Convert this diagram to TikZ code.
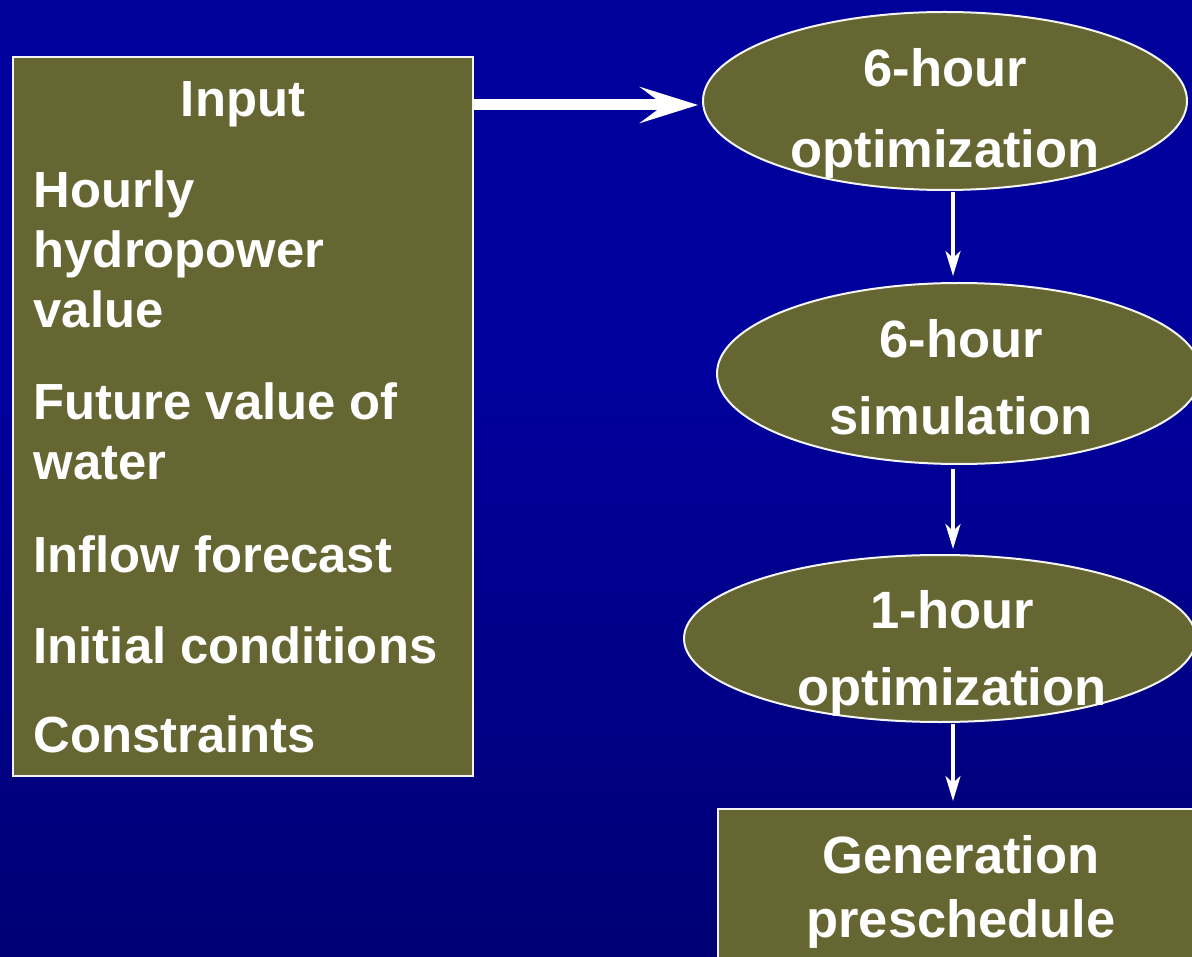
\documentclass[tikz,border=0pt]{standalone}
\usepackage{fontspec}
\setmainfont{Liberation Sans}
\usetikzlibrary{shapes.geometric,arrows.meta}

\definecolor{olive}{HTML}{666633}
\definecolor{bgtop}{HTML}{000088}
\definecolor{bgmid}{HTML}{00009C}
\definecolor{bglow}{HTML}{000070}
\definecolor{bgbot}{HTML}{000036}
\definecolor{edge}{HTML}{F4F4F4}

\pgfdeclareverticalshading{slidebg}{100bp}{%
  color(0bp)=(bgbot); color(22bp)=(bglow); color(55bp)=(bgmid);
  color(72bp)=(bgmid); color(100bp)=(bgtop)}

\tikzset{
  panel/.style={draw=edge, line width=2pt, fill=olive, inner sep=0pt},
  oval/.style={ellipse, draw=edge, line width=2pt, fill=olive, inner sep=0pt},
  lefttxt/.style={anchor=base west, inner sep=0pt, text=white,
    font=\fontsize{50.8}{60}\selectfont\bfseries},
  headtxt/.style={anchor=base, inner sep=0pt, text=white,
    font=\fontsize{50.8}{60}\selectfont\bfseries},
  shapetxt/.style={anchor=base, inner sep=0pt, text=white,
    font=\fontsize{52.5}{62}\selectfont\bfseries},
  flow/.style={draw=white, line width=3.5pt,
    -{Stealth[length=25pt, width=15pt, inset=7pt]}},
  bigflow/.style={draw=white, line width=11pt,
    -{Stealth[length=58pt, width=36pt, inset=24pt]}}
}

\begin{document}
\begin{tikzpicture}[x=1pt, y=-1pt]
  % page frame and background
  \useasboundingbox (0,0) rectangle (1192,957);
  \clip (0,0) rectangle (1192,957);
  \shade[shading=slidebg] (0,0) rectangle (1192,957);

  % input panel
  \node[panel, minimum width=460pt, minimum height=719pt] (input) at (243,416.5) {};
  \node[headtxt] (inhead) at (243,117) {Input};
  \node[lefttxt] (i1a) at (33.5,208) {Hourly};
  \node[lefttxt] (i1b) at (33.5,268) {hydropower};
  \node[lefttxt] (i1c) at (33.5,328) {value};
  \node[lefttxt] (i2a) at (33.5,420) {Future value of};
  \node[lefttxt] (i2b) at (33.5,480) {water};
  \node[lefttxt] (i3) at (33.5,572) {Inflow forecast};
  \node[lefttxt] (i4) at (33.5,663) {Initial conditions};
  \node[lefttxt] (i5) at (33.5,752) {Constraints};

  % process chain
  \node[oval, minimum width=484pt, minimum height=178pt] (opt6) at (945,101) {};
  \node[oval, minimum width=484pt, minimum height=181pt] (sim6) at (959,373.5) {};
  \node[oval, minimum width=512pt, minimum height=167pt] (opt1) at (940,638.5) {};
  \node[panel, minimum width=486pt, minimum height=200pt] (gen) at (961,909) {};

  \node[shapetxt] (t1a) at (945,87) {6-hour};
  \node[shapetxt] (t1b) at (945,168) {optimization};
  \node[shapetxt] (t2a) at (961,358) {6-hour};
  \node[shapetxt] (t2b) at (961,435) {simulation};
  \node[shapetxt] (t3a) at (952,628) {1-hour};
  \node[shapetxt] (t3b) at (952,705) {optimization};
  \node[shapetxt] (t4a) at (961,873) {Generation};
  \node[shapetxt] (t4b) at (961,937) {preschedule};

  % connectors
  \coordinate (bigy) at (0,105);
  \coordinate (colx) at (953,0);
  \draw[bigflow] (input.east |- bigy) -- ([xshift=-4pt]opt6.west |- bigy);
  \draw[flow, shorten <=1pt, shorten >=6pt] (opt6.south -| colx) -- (sim6.north -| colx);
  \draw[flow, shorten <=4pt, shorten >=5pt] (sim6.south -| colx) -- (opt1.north -| colx);
  \draw[flow, shorten <=1pt, shorten >=7pt] (opt1.south -| colx) -- (gen.north -| colx);
\end{tikzpicture}
\end{document}
